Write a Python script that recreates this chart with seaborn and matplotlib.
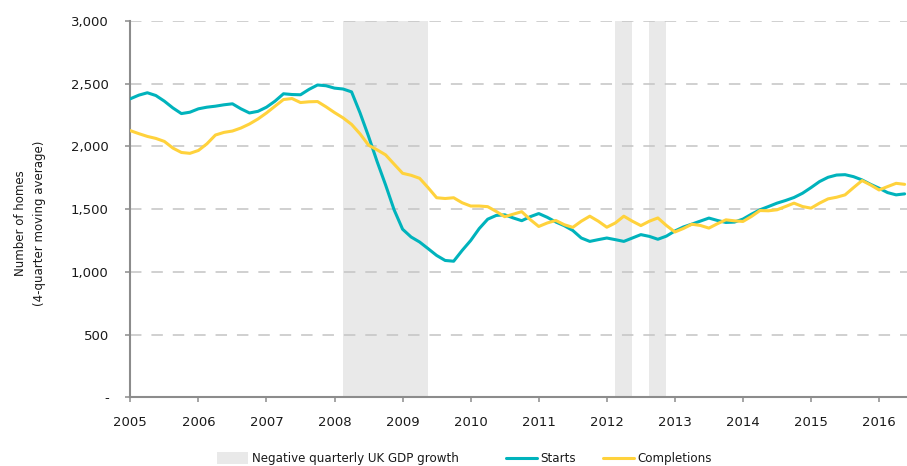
import numpy as np
import pandas as pd
import matplotlib
matplotlib.use("Agg")
import matplotlib.pyplot as plt
from matplotlib.patches import Patch
from matplotlib.lines import Line2D
from matplotlib.ticker import FuncFormatter
import seaborn as sns

# ── Data (one value every 1/8 year from 2005) ──────────────────────────────
START_YEAR = 2005.0
STEP = 0.125

starts = [
    2380, 2409, 2428, 2406, 2361, 2307, 2262, 2273,   # 2005
    2300, 2313, 2321, 2332, 2340, 2300, 2267, 2280,   # 2006
    2313, 2361, 2420, 2414, 2412, 2455, 2490, 2484,   # 2007
    2465, 2458, 2435, 2267, 2080, 1880, 1693, 1495,   # 2008
    1340, 1278, 1238, 1185, 1131, 1091, 1085, 1171,   # 2009
    1250, 1345, 1420, 1450, 1455, 1430, 1408, 1440,   # 2010
    1465, 1435, 1398, 1368, 1330, 1270, 1243, 1257,   # 2011
    1270, 1257, 1243, 1270, 1297, 1283, 1260, 1285,   # 2012
    1326, 1358, 1381, 1405, 1429, 1410, 1394, 1397,   # 2013
    1421, 1460, 1495, 1521, 1548, 1569, 1593, 1627,   # 2014
    1672, 1720, 1754, 1772, 1775, 1759, 1733, 1698,   # 2015
    1667, 1632, 1614, 1622,                           # 2016
]

completions = [
    2126, 2102, 2080, 2064, 2040, 1987, 1952, 1945,   # 2005
    1968, 2021, 2091, 2112, 2123, 2147, 2179, 2219,   # 2006
    2267, 2321, 2374, 2382, 2350, 2356, 2358, 2316,   # 2007
    2270, 2228, 2176, 2100, 2010, 1973, 1933, 1859,   # 2008
    1786, 1770, 1746, 1671, 1591, 1585, 1591, 1551,   # 2009
    1525, 1525, 1520, 1482, 1440, 1460, 1480, 1417,   # 2010
    1362, 1390, 1410, 1376, 1355, 1404, 1444, 1404,   # 2011
    1356, 1390, 1444, 1404, 1369, 1404, 1430, 1370,   # 2012
    1318, 1346, 1380, 1370, 1349, 1384, 1415, 1407,   # 2013
    1402, 1442, 1489, 1487, 1495, 1521, 1548, 1521,   # 2014
    1508, 1548, 1582, 1595, 1614, 1672, 1728, 1693,   # 2015
    1653, 1680, 1706, 1698,                           # 2016
]

# negative quarterly UK GDP growth periods (start, end)
recessions = [(2008.125, 2009.375), (2012.125, 2012.375), (2012.625, 2012.875)]

year_ticks = list(range(2005, 2017))
y_ticks = [0, 500, 1000, 1500, 2000, 2500, 3000]

TEAL = "#00B3BC"
YELLOW = "#FFD23C"
SHADE = "#E9E9E9"
TXT = "#1a1a1a"

t = START_YEAR + STEP * np.arange(len(starts))
df = pd.DataFrame({
    "t": np.concatenate([t, t]),
    "value": starts + completions,
    "series": ["Starts"] * len(starts) + ["Completions"] * len(completions),
})

# ── Plot ───────────────────────────────────────────────────────────────────
sns.set_theme(style="white")
plt.rcParams["font.family"] = ["DejaVu Sans"]

fig = plt.figure(figsize=(9.07, 4.66), dpi=100)
ax = fig.add_axes([0.1437, 0.1474, 0.8563, 0.8075])

for a, b in recessions:
    ax.axvspan(a, b, color=SHADE, lw=0, zorder=0.2)

sns.lineplot(data=df, x="t", y="value", hue="series",
             palette={"Starts": TEAL, "Completions": YELLOW},
             hue_order=["Starts", "Completions"],
             linewidth=2.2, legend=False, ax=ax, zorder=3,
             solid_joinstyle="round", solid_capstyle="round")

ax.set_xlim(2005, 2016.41)
ax.set_ylim(0, 3000)
ax.set_xticks(year_ticks)
ax.set_yticks(y_ticks)
ax.yaxis.set_major_formatter(FuncFormatter(lambda v, p: "-" if v == 0 else f"{v:,.0f}"))

ax.set_axisbelow(True)
ax.grid(axis="y", color="#C4C4C4", linewidth=1.1, linestyle=(0, (7.5, 6.5)), zorder=0.5)
ax.grid(axis="x", visible=False)

for s in ["top", "right"]:
    ax.spines[s].set_visible(False)
for s in ["left", "bottom"]:
    ax.spines[s].set_color("#8C8C8C")
    ax.spines[s].set_linewidth(1.5)

ax.tick_params(axis="y", which="major", left=True, length=3.5, width=1.1,
               color="#8C8C8C", pad=12, labelsize=9.5, labelcolor=TXT)
ax.tick_params(axis="x", which="major", bottom=True, length=3.5, width=1.1,
               color="#8C8C8C", pad=10, labelsize=9.5, labelcolor=TXT)
ax.set_xlabel("")
ax.set_ylabel("")

fig.text(30 / 907, (466 - 223) / 466, "Number of homes\n(4-quarter moving average)",
         rotation=90, ha="center", va="center", multialignment="center",
         fontsize=8.5, color=TXT, linespacing=1.6)

# legends
leg1 = fig.legend(handles=[Patch(facecolor=SHADE, edgecolor="none",
                                 label="Negative quarterly UK GDP growth")],
                  loc="center left", bbox_to_anchor=(211 / 907, 0.016),
                  frameon=False, borderpad=0, fontsize=8.6, handlelength=2.6,
                  handleheight=1.2, handletextpad=0.3, labelcolor=TXT)
leg2 = fig.legend(handles=[Line2D([], [], color=TEAL, lw=2.2, label="Starts"),
                           Line2D([], [], color=YELLOW, lw=2.2, label="Completions")],
                  loc="center left", bbox_to_anchor=(500 / 907, 0.016),
                  ncol=2, frameon=False, borderpad=0, fontsize=8.6,
                  handlelength=2.6, handletextpad=0.3, columnspacing=2.2,
                  labelcolor=TXT)

fig.savefig("out.png", dpi=100)
